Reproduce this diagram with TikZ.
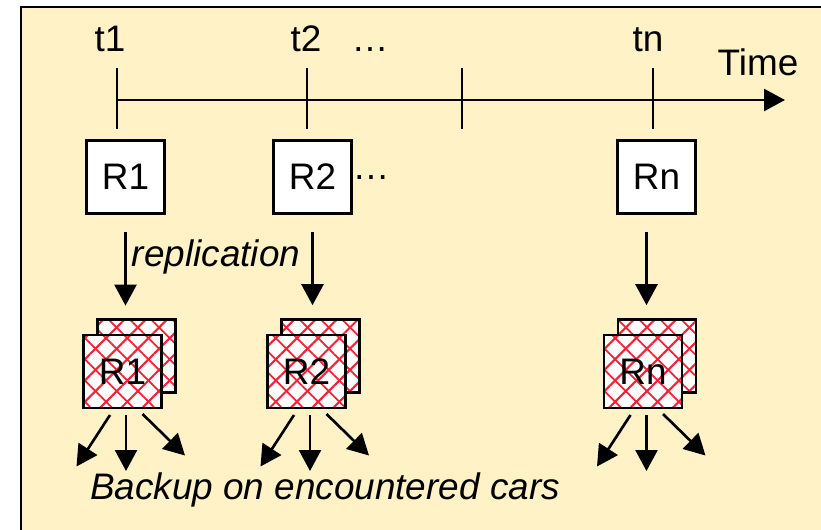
\documentclass[tikz,border=0pt]{standalone}
\usepackage{fontspec}
\setmainfont{Liberation Sans}
\usetikzlibrary{arrows.meta,calc,patterns.meta}

\definecolor{paper}{RGB}{255,242,199}
\definecolor{hatch}{RGB}{240,35,55}

\begin{document}
\begin{tikzpicture}[line width=1.5pt, font=\fontsize{21}{25}\selectfont,
    >={Triangle[length=0.42cm,width=0.44cm]},
    rbox/.style={draw, fill=white, minimum width=1.56cm, minimum height=1.46cm, inner sep=0pt},
    copybox/.style={rbox, preaction={fill=white},
        preaction={pattern={Lines[angle=45,distance=0.3cm,line width=1.2pt]}, pattern color=hatch},
        pattern={Lines[angle=-45,distance=0.3cm,line width=1pt]}, pattern color=hatch}]

    \useasboundingbox (0,0) rectangle (16.42,10.58);
    \clip (0,0) rectangle (16.42,10.58);
    \draw[fill=paper] (0.42,-1) rectangle (17.5,10.44);

    % time axis
    \coordinate (start) at (2.34,8.58);
    \coordinate (end) at (15.70,8.58);
    \draw[->] (start) -- (end);
    \foreach \x in {2.34,6.14,9.24,13.06}
        \draw (\x,9.22) -- (\x,8.0);

    \node[anchor=base] (t1) at (2.20,9.56) {t1};
    \node[anchor=base] (t2) at (6.12,9.56) {t2};
    \node[anchor=base] (tdots) at (7.40,9.56) {…};
    \node[anchor=base] (tn) at (12.96,9.56) {tn};
    \node[anchor=base] (time) at (15.16,9.08) {Time};

    % replicas at each instant
    \node[rbox] (R1) at (2.51,7.04) {R1};
    \node[rbox] (R2) at (6.25,7.04) {R2};
    \node[rbox] (Rn) at (13.13,7.04) {Rn};
    \node[anchor=base] (rdots) at (7.42,7.0) {…};

    % copies handed over to other cars
    \node[copybox] (C1b) at (2.73,3.46) {};
    \node[copybox] (C2b) at (6.41,3.46) {};
    \node[copybox] (Cnb) at (13.14,3.46) {};
    \node[copybox] (C1) at (2.45,3.15) {R1};
    \node[copybox] (C2) at (6.13,3.15) {R2};
    \node[copybox] (Cn) at (12.86,3.15) {Rn};

    \draw[->] ($(R1.south)+(0,-0.34)$) -- ($(R1.south |- C1b.north)+(0,0.26)$);
    \draw[->] ($(R2.south)+(0,-0.34)$) -- ($(R2.south |- C2b.north)+(0,0.26)$);
    \draw[->] ($(Rn.south)+(-0.2,-0.34)$) -- ($(Rn.south |- Cnb.north)+(-0.2,0.26)$);
    \node (rep) at (4.32,5.44) {\textit{replication}};

    \foreach \c in {C1,C2,Cn} {
        \draw[->] ($(\c)+(-0.25,-0.87)$) -- ($(\c)+(-0.92,-1.9)$);
        \draw[->] ($(\c)+(0.07,-0.87)$) -- ($(\c)+(0.07,-1.99)$);
        \draw[->] ($(\c)+(0.40,-0.85)$) -- ($(\c)+(1.25,-1.68)$);
    }
    \node (backup) at (6.5,0.78) {\textit{Backup on encountered cars}};
\end{tikzpicture}
\end{document}
